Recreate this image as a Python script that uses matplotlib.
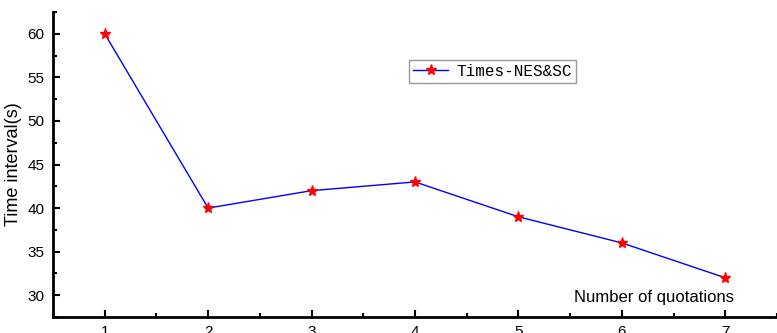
import matplotlib
matplotlib.use('Agg')
import matplotlib.pyplot as plt
from matplotlib.ticker import MultipleLocator

# data
quotations = [1, 2, 3, 4, 5, 6, 7]
time_interval = [60, 40, 42, 43, 39, 36, 32]
series_name = 'Times-NES&SC'

plt.rcParams['font.family'] = ['Liberation Sans', 'DejaVu Sans']

fig = plt.figure(figsize=(7.77, 3.33), dpi=100)
ax = fig.add_axes([53 / 777, 16 / 333, 1 - 53 / 777, 305 / 333])

ax.plot(quotations, time_interval, color='blue', lw=1.0,
        marker='*', markersize=8, markerfacecolor='red', markeredgecolor='red',
        label=series_name)

ax.set_xlim(0.5, 7.5)
ax.set_ylim(27.5, 62.5)
ax.xaxis.set_major_locator(MultipleLocator(1))
ax.xaxis.set_minor_locator(MultipleLocator(0.5))
ax.yaxis.set_major_locator(MultipleLocator(5))
ax.yaxis.set_minor_locator(MultipleLocator(2.5))

for s in ['top', 'right']:
    ax.spines[s].set_visible(False)
for s in ['left', 'bottom']:
    ax.spines[s].set_linewidth(2)

ax.tick_params(which='major', direction='in', length=5, width=1.5,
               labelsize=11, pad=6)
ax.tick_params(which='minor', direction='in', length=3, width=1.5)

ax.set_ylabel('Time interval(s)', fontsize=13, labelpad=4)
ax.text(6.31, 29.75, 'Number of quotations', fontsize=12, ha='center', va='center')

leg = ax.legend(loc='upper left', bbox_to_anchor=(0.492, 0.843),
                borderaxespad=0,
                prop={'family': 'Liberation Mono', 'size': 11.5},
                frameon=True, fancybox=False, handlelength=2.2,
                borderpad=0.25, handletextpad=0.5)
leg.get_frame().set_edgecolor('gray')
leg.get_frame().set_linewidth(1)

fig.savefig('out.png', dpi=100)
